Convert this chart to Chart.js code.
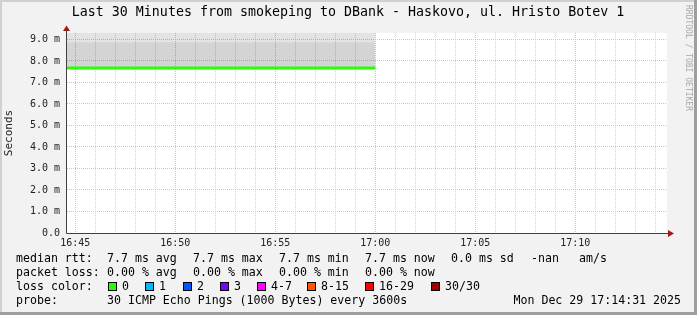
<!DOCTYPE html>
<html lang="en">
<head>
<meta charset="UTF-8">
<title>Last 30 Minutes from smokeping to DBank - Haskovo</title>
<style>
    html, body {
        margin: 0;
        padding: 0;
        background: #f2f2f2;
    }
    #wrap {
        width: 697px;
        height: 315px;
    }
</style>
</head>
<body>
<div id="wrap"><canvas id="chart" width="697" height="315"></canvas></div>
<script src="https://cdn.jsdelivr.net/npm/chart.js"></script>
<script>
// graph window
const windowStart = '16:44:35';
const windowEnd = '17:14:35';

// one rrd sample (step 3600s) covering 16:00 - 17:00
const sampleTimes = ['16:00:00', '17:00:00'];
const medianRtt = [7.67, 7.67];   // ms
const smokeLow = [7.67, 7.67];
const smokeMid = [8.87, 8.87];
const smokeHigh = [9.6, 9.6];

const yMax = 9.3;
const yTickLabels = ['0.0', '1.0 m', '2.0 m', '3.0 m', '4.0 m', '5.0 m', '6.0 m', '7.0 m', '8.0 m', '9.0 m'];
const timeLabels = ['16:45', '16:50', '16:55', '17:00', '17:05', '17:10'];

// legend rows
const titleText = 'Last 30 Minutes from smokeping to DBank - Haskovo, ul. Hristo Botev 1';
const rttStats = ['7.7 ms avg', '7.7 ms max', '7.7 ms min', '7.7 ms now', '0.0 ms sd', '-nan', 'am/s'];
const lossStats = ['0.00 % avg', '0.00 % max', '0.00 % min', '0.00 % now'];
const lossLabels = ['0', '1', '2', '3', '4-7', '8-15', '16-29', '30/30'];
const lossColors = ['#26ff00', '#00b8ff', '#0059ff', '#7e00ff', '#ff00ff', '#ff5500', '#ff0000', '#a10000'];
const probeText = '30 ICMP Echo Pings (1000 Bytes) every 3600s';
const dateText = 'Mon Dec 29 17:14:31 2025';

function toSec(t) {
    const p = t.split(':').map(Number);
    return p[0] * 3600 + p[1] * 60 + (p[2] || 0);
}
function pts(values) {
    return values.map((v, i) => ({ x: toSec(sampleTimes[i]), y: v }));
}

const xMin = toSec(windowStart);
const xMax = toSec(windowEnd);
const mono = '"DejaVu Sans Mono", monospace';
const majorGrid = '#eab8b8';
const minorGrid = '#d4d4d4';

const rrdDecor = {
    id: 'rrdDecor',
    beforeDraw(chart) {
        const ctx = chart.ctx;
        const a = chart.chartArea;
        ctx.save();
        ctx.fillStyle = '#f2f2f2';
        ctx.fillRect(0, 0, 697, 315);
        // frame
        ctx.fillStyle = '#d0d0d0';
        ctx.fillRect(0, 0, 697, 2);
        ctx.fillRect(0, 0, 2, 315);
        ctx.fillStyle = '#9e9e9e';
        ctx.fillRect(694, 0, 3, 315);
        ctx.fillRect(0, 312, 697, 3);
        // canvas
        ctx.fillStyle = '#ffffff';
        ctx.fillRect(a.left, a.top, a.right - a.left, a.bottom - a.top);
        ctx.restore();
    },
    afterDraw(chart) {
        const ctx = chart.ctx;
        const a = chart.chartArea;
        ctx.save();

        // axes
        ctx.strokeStyle = '#404040';
        ctx.lineWidth = 1;
        ctx.beginPath();
        ctx.moveTo(a.left - 0.5, 31);
        ctx.lineTo(a.left - 0.5, a.bottom + 0.5);
        ctx.lineTo(a.right + 2, a.bottom + 0.5);
        ctx.stroke();

        ctx.fillStyle = '#a01a1a';
        ctx.beginPath();
        ctx.moveTo(a.left - 4, 31);
        ctx.lineTo(a.left + 3, 31);
        ctx.lineTo(a.left - 0.5, 25.5);
        ctx.closePath();
        ctx.fill();
        ctx.beginPath();
        ctx.moveTo(a.right + 1, a.bottom - 3);
        ctx.lineTo(a.right + 1, a.bottom + 4);
        ctx.lineTo(a.right + 7, a.bottom + 0.5);
        ctx.closePath();
        ctx.fill();

        // title
        ctx.fillStyle = '#000';
        ctx.font = '13.3px ' + mono;
        ctx.textAlign = 'center';
        ctx.textBaseline = 'middle';
        ctx.fillText(titleText, 348, 13);

        // watermark
        ctx.save();
        ctx.translate(688, 5);
        ctx.rotate(Math.PI / 2);
        ctx.font = '8px ' + mono;
        ctx.fillStyle = '#a8a8a8';
        ctx.textAlign = 'left';
        ctx.fillText('RRDTOOL / TOBI OETIKER', 0, 0);
        ctx.restore();

        // legend
        ctx.font = '11.6px ' + mono;
        ctx.textAlign = 'left';
        ctx.fillStyle = '#000';
        const cols = [107, 193, 279, 365, 451, 531, 579];
        ctx.fillText('median rtt:', 16, 259);
        rttStats.forEach((s, i) => ctx.fillText(s, cols[i], 259));
        ctx.fillText('packet loss:', 16, 273);
        lossStats.forEach((s, i) => ctx.fillText(s, cols[i], 273));
        ctx.fillText('loss color:', 16, 287);
        const sw = [108, 145, 183, 220, 257, 307, 365, 431];
        lossLabels.forEach((s, i) => {
            ctx.fillStyle = lossColors[i];
            ctx.fillRect(sw[i], 282, 9, 9);
            ctx.strokeStyle = '#000';
            ctx.strokeRect(sw[i] + 0.5, 282.5, 8, 8);
            ctx.fillStyle = '#000';
            ctx.fillText(s, sw[i] + 14, 287);
        });
        ctx.fillText('probe:', 16, 301);
        ctx.fillText(probeText, 107, 301);
        ctx.textAlign = 'right';
        ctx.fillText(dateText, 681, 301);
        ctx.restore();
    }
};

new Chart(document.getElementById('chart'), {
    type: 'line',
    data: {
        datasets: [{
            label: 'median rtt',
            data: pts(medianRtt),
            borderColor: '#26ff00',
            borderWidth: 3,
            stepped: 'before',
            pointRadius: 0,
            fill: false
        }, {
            label: 'smoke low',
            data: pts(smokeLow),
            borderWidth: 0,
            pointRadius: 0,
            fill: false
        }, {
            label: 'smoke mid',
            data: pts(smokeMid),
            borderWidth: 0,
            pointRadius: 0,
            fill: '-1',
            backgroundColor: 'rgba(0,0,0,0.17)'
        }, {
            label: 'smoke high',
            data: pts(smokeHigh),
            borderWidth: 0,
            pointRadius: 0,
            fill: '-1',
            backgroundColor: 'rgba(0,0,0,0.11)'
        }]
    },
    options: {
        responsive: false,
        devicePixelRatio: 1,
        animation: false,
        layout: { padding: { left: 0, top: 33, right: 30, bottom: 62 } },
        plugins: {
            legend: { display: false },
            tooltip: { enabled: false },
            title: { display: false }
        },
        scales: {
            x: {
                type: 'linear',
                min: xMin,
                max: xMax,
                afterFit(s) { s.height = 20; },
                afterBuildTicks(s) {
                    const t = [];
                    for (let v = Math.ceil(xMin / 60) * 60; v <= xMax; v += 60) t.push({ value: v });
                    s.ticks = t;
                },
                grid: {
                    color: c => (c.tick && c.tick.value % 300 === 0) ? majorGrid : minorGrid,
                    drawTicks: false
                },
                border: { display: false, dash: [1, 1] },
                ticks: {
                    autoSkip: false,
                    maxRotation: 0,
                    padding: 4,
                    color: '#222',
                    font: { family: mono, size: 10 },
                    callback(v) {
                        const h = Math.floor(v / 3600);
                        const m = Math.floor((v % 3600) / 60);
                        const lbl = h + ':' + String(m).padStart(2, '0');
                        return timeLabels.includes(lbl) ? lbl : '';
                    }
                }
            },
            y: {
                min: 0,
                max: yMax,
                afterFit(s) { s.width = 67; },
                afterBuildTicks(s) {
                    const t = [];
                    for (let i = 0; i < yTickLabels.length * 2 - 1; i++) t.push({ value: i / 2 });
                    s.ticks = t;
                },
                grid: {
                    color: c => (c.tick && Number.isInteger(c.tick.value)) ? majorGrid : minorGrid,
                    drawTicks: false
                },
                border: { display: false, dash: [1, 1] },
                ticks: {
                    padding: 7,
                    color: '#222',
                    font: { family: mono, size: 10 },
                    callback(v) {
                        return Number.isInteger(v) ? yTickLabels[v] : '';
                    }
                },
                title: {
                    display: true,
                    text: 'Seconds',
                    color: '#222',
                    font: { family: mono, size: 11 },
                    padding: { top: 3, bottom: 0 }
                }
            }
        }
    },
    plugins: [rrdDecor]
});
</script>
</body>
</html>
